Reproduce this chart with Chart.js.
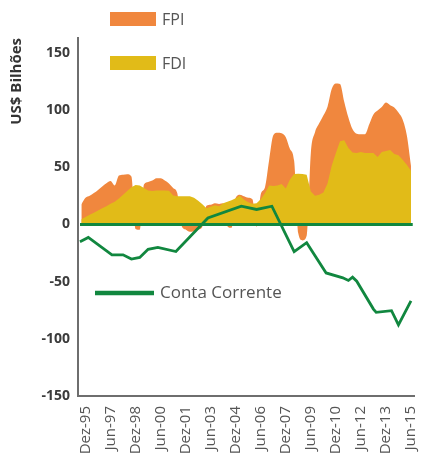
<!DOCTYPE html>
<html>
<head>
<meta charset="utf-8">
<script src="https://cdn.jsdelivr.net/npm/chart.js@4.4.1/dist/chart.umd.min.js"></script>
<style>
  html, body { margin: 0; padding: 0; background: #fff; }
  #wrap { position: relative; width: 439px; height: 458px; }
</style>
</head>
<body>
<div id="wrap"><canvas id="chart"></canvas></div>
<script>
// meses contados a partir de Dez-95 (trimestral)
const meses = [-3, 0, 3, 6, 9, 12, 15, 18, 21, 24, 27, 30, 33, 36, 39, 42, 45, 48, 51, 54,
  57, 60, 63, 66, 69, 72, 75, 78, 81, 84, 87, 90, 93, 96, 99, 102, 105, 108, 111, 114,
  117, 120, 123, 126, 129, 132, 135, 138, 141, 144, 147, 150, 153, 156, 159, 162, 165, 168, 171, 174,
  177, 180, 183, 186, 189, 192, 195, 198, 201, 204, 207, 210, 213, 216, 219, 222, 225, 228, 231, 234];

const fdi = [4.5, 6.5, 8.4, 10.3, 12.2, 14.1, 16.0, 18.0, 19.9, 22.6, 25.9, 29.2, 32.6, 34.5, 34.1, 31.8, 29.7, 29.3, 29.7, 29.7,
  29.7, 29.5, 25.4, 24.6, 24.6, 24.6, 24.6, 23.3, 20.7, 17.7, 14.2, 15.5, 16.8, 15.9, 18.5, 19.8, 21.1, 22.8, 25, 21.6,
  19.4, 18.1, 18.5, 22, 27.2, 34.1, 33.6, 34.1, 35.3, 31.5, 39.2, 44, 44.4, 44, 43.5, 28.9, 25, 25.9, 28, 35.8,
  51.3, 62.5, 72.8, 73.7, 66.8, 62.9, 62.5, 63.4, 62.5, 62.5, 62.5, 59, 63.4, 64.2, 65.1, 61.6, 60.5, 56.5, 52.2, 47];

const fpi = [13, 16.8, 16.6, 17.1, 18, 19.1, 19.9, 19.9, 14.1, 20.1, 17.6, 14.6, 9.2, -4, -4.7, 3.1, 7.5, 9.1, 10.7, 10.6,
  8.7, 6.3, 6.5, 2.6, -1, -4.5, -6.5, -6, -4.5, -2, 2.2, 1.7, 1.7, 2, 0, -1.5, -3, 0.5, 1, 3,
  3.9, 3.9, -2, 4.3, 5.1, 22, 44.4, 46.1, 44.4, 44.8, 26.7, 11.6, -8, -14, -10, 33.6, 55.6, 62.5, 67.3, 67.2,
  67.2, 60.8, 50, 33.6, 26.7, 20.3, 16.8, 15.5, 16.4, 25, 33.6, 40.6, 39.2, 42.3, 39.2, 40.6, 37.3, 35.3, 25.8, 4.3];

// conta corrente: pontos próprios (mês, valor)
const ccMeses = [-4, 2, 19, 27, 33, 39, 45, 52, 65, 88, 112, 123, 134, 150, 159, 173, 185, 189, 192, 195, 207, 209, 220, 225, 234];
const ccValores = [-15.1, -11.4, -26.6, -26.6, -30.3, -28.9, -21.7, -20.0, -23.7, 5.6, 15.9, 13.1, 15.9, -23.7, -15.9,
  -42.4, -46.7, -49.0, -46.1, -49.6, -74.0, -76.9, -75.4, -87.8, -66.8];

const tickMeses = [0, 18, 36, 54, 72, 90, 108, 126, 144, 162, 180, 198, 216, 234];
const tickLabels = ['Dez-95', 'Jun-97', 'Dez-98', 'Jun-00', 'Dez-01', 'Jun-03', 'Dez-04', 'Jun-06',
  'Dez-07', 'Jun-09', 'Dez-10', 'Jun-12', 'Dez-13', 'Jun-15'];
const yTicks = [-150, -100, -50, 0, 50, 100, 150];

const laranja = '#f0873e';
const amarelo = '#e1bb18';
const verde = '#11873f';
const fonte = "'Open Sans', sans-serif";

const pares = (xs, ys) => xs.map((x, i) => ({x: x, y: ys[i]}));

// linha verde no zero, por cima das áreas
const linhaZero = {
  id: 'linhaZero',
  afterDatasetsDraw(chart) {
    const {ctx, chartArea, scales} = chart;
    const y0 = scales.y.getPixelForValue(0);
    ctx.save();
    ctx.strokeStyle = verde;
    ctx.lineWidth = 3;
    ctx.beginPath();
    ctx.moveTo(chartArea.left + 2, y0);
    ctx.lineTo(chartArea.right - 2, y0);
    ctx.stroke();
    ctx.restore();
  }
};

// legenda solta dentro do gráfico
const legenda = {
  id: 'legenda',
  afterDraw(chart) {
    const ctx = chart.ctx;
    const ds = chart.data.datasets;
    ctx.save();
    ctx.textBaseline = 'middle';
    ctx.fillStyle = ds[1].backgroundColor;
    ctx.fillRect(110, 12, 46, 14);
    ctx.fillStyle = ds[0].backgroundColor;
    ctx.fillRect(110, 56, 46, 14);
    ctx.strokeStyle = ds[2].borderColor;
    ctx.lineWidth = 4.5;
    ctx.beginPath();
    ctx.moveTo(95, 293);
    ctx.lineTo(154, 293);
    ctx.stroke();
    ctx.fillStyle = '#555';
    ctx.font = '16px ' + fonte;
    ctx.fillText(ds[1].label, 162, 20);
    ctx.fillText(ds[0].label, 162, 64);
    ctx.font = '17px ' + fonte;
    ctx.fillText(ds[2].label, 160, 293);
    ctx.restore();
  }
};

new Chart(document.getElementById('chart'), {
  type: 'line',
  data: {
    datasets: [
      {
        label: 'FDI', data: pares(meses, fdi), stack: 'fluxos', order: 1,
        backgroundColor: amarelo, borderColor: amarelo, borderWidth: 0,
        fill: 'origin', pointRadius: 0, tension: 0
      },
      {
        label: 'FPI', data: pares(meses, fpi), stack: 'fluxos', order: 2,
        backgroundColor: laranja, borderColor: laranja, borderWidth: 0,
        fill: 'origin', pointRadius: 0, cubicInterpolationMode: 'monotone'
      },
      {
        label: 'Conta Corrente', data: pares(ccMeses, ccValores), stack: 'cc', order: 0,
        borderColor: verde, backgroundColor: verde, borderWidth: 2.8,
        fill: false, pointRadius: 0, tension: 0
      }
    ]
  },
  options: {
    responsive: true,
    maintainAspectRatio: false,
    animation: false,
    devicePixelRatio: 1,
    layout: {padding: {top: 38, right: 2, left: 0, bottom: 0}},
    plugins: {legend: {display: false}, tooltip: {enabled: false}},
    scales: {
      x: {
        type: 'linear',
        min: -5.4,
        max: 236.7,
        afterBuildTicks: s => { s.ticks = tickMeses.map(v => ({value: v})); },
        afterFit: s => { s.height = 62; },
        grid: {display: false, drawTicks: false},
        border: {display: true, color: '#6e6e6e', width: 2},
        ticks: {
          autoSkip: false, minRotation: 90, maxRotation: 90, padding: 10,
          color: '#555', font: {family: fonte, size: 15},
          callback: (v, i) => tickLabels[i]
        }
      },
      y: {
        stacked: true,
        min: -150,
        max: 163,
        afterBuildTicks: s => { s.ticks = yTicks.map(v => ({value: v})); },
        afterFit: s => { s.width = 78; },
        grid: {display: false, drawTicks: false},
        border: {display: true, color: '#6e6e6e', width: 2},
        ticks: {color: '#3b3b3b', font: {family: fonte, size: 14, weight: 'bold'}, padding: 8},
        title: {
          display: true, text: 'US$ Bilhões', align: 'end', color: '#333',
          font: {family: fonte, size: 15, weight: 'bold'}, padding: {top: 8, bottom: 0}
        }
      }
    }
  },
  plugins: [linhaZero, legenda]
});
</script>
</body>
</html>
